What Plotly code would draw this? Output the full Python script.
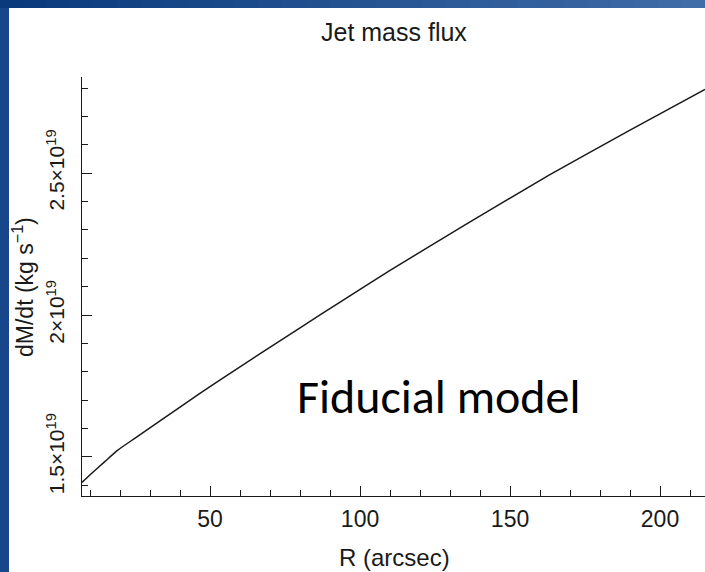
import numpy as np
import plotly.graph_objects as go

# ---- data ----
R_arcsec = [7.3, 10, 15, 19, 25, 35, 46, 54, 80, 94, 110, 135, 163, 190, 215]
mdot_e19 = [1.410, 1.437, 1.484, 1.522, 1.566, 1.639, 1.719, 1.776, 1.955,
            2.050, 2.157, 2.318, 2.493, 2.652, 2.795]
x_tickvals = [50, 100, 150, 200]
x_ticktext = ["50", "100", "150", "200"]
y_tickvals = [1.5e19, 2.0e19, 2.5e19]
y_ticktext = ["1.5×10<sup>19</sup>", "2×10<sup>19</sup>", "2.5×10<sup>19</sup>"]
x_minor = list(range(10, 220, 10))
y_minor = [v * 1e18 for v in range(14, 29)]

mdot = [v * 1e19 for v in mdot_e19]

W, H = 705, 572
ML, MR, MT, MB = 82, 0, 77, 76
PW, PH = W - ML - MR, H - MT - MB

def px(x):
    return (x - ML) / PW

def py(y):
    return (H - MB - y) / PH

FONT = "Liberation Sans, Arial, sans-serif"
INK = "#1a1a1a"

fig = go.Figure()
fig.add_trace(go.Scatter(x=R_arcsec, y=mdot, mode="lines",
                         line=dict(color=INK, width=1.5, shape="spline", smoothing=0.5),
                         showlegend=False))

xr = [7.3, 215]
yr = [1.362e19, 2.839e19]

fig.update_layout(
    width=W, height=H,
    margin=dict(l=ML, r=MR, t=MT, b=MB, pad=0),
    paper_bgcolor="white", plot_bgcolor="white",
    showlegend=False,
    xaxis=dict(range=xr, showgrid=False, zeroline=False, showline=True,
               linecolor=INK, linewidth=1.3, ticks="inside", ticklen=10,
               tickwidth=1.3, tickcolor=INK, tickmode="array",
               tickvals=x_tickvals, ticktext=x_ticktext,
               tickfont=dict(family=FONT, size=23, color=INK),
               ticklabelstandoff=2,
               minor=dict(tickmode="array", tickvals=x_minor, ticks="inside",
                          ticklen=6, tickwidth=1.3, tickcolor=INK)),
    yaxis=dict(range=yr, showgrid=False, zeroline=False, showline=True,
               linecolor=INK, linewidth=1.3, ticks="inside", ticklen=10,
               tickwidth=1.3, tickcolor=INK, tickmode="array",
               tickvals=y_tickvals, ticktext=y_ticktext, tickangle=-90,
               tickfont=dict(family=FONT, size=21, color=INK),
               ticklabelstandoff=8,
               minor=dict(tickmode="array", tickvals=y_minor, ticks="inside",
                          ticklen=6, tickwidth=1.3, tickcolor=INK)),
    xaxis2=dict(range=xr, overlaying="x", side="top", anchor="y",
                showgrid=False, zeroline=False, showline=True, linecolor=INK,
                linewidth=1.3, ticks="inside", ticklen=10, tickwidth=1.3,
                tickcolor=INK, tickmode="array", tickvals=x_tickvals,
                showticklabels=False,
                minor=dict(tickmode="array", tickvals=x_minor, ticks="inside",
                           ticklen=6, tickwidth=1.3, tickcolor=INK)),
    yaxis2=dict(range=yr, overlaying="y", side="right", anchor="x",
                showgrid=False, zeroline=False, showline=False,
                ticks="inside", ticklen=10, tickwidth=1.3, tickcolor=INK,
                tickmode="array", tickvals=y_tickvals, showticklabels=False,
                minor=dict(tickmode="array", tickvals=y_minor, ticks="inside",
                           ticklen=6, tickwidth=1.3, tickcolor=INK)),
)

# title
fig.add_annotation(text="Jet mass flux", xref="paper", yref="paper",
                   x=px(394), y=py(32), xanchor="center", yanchor="middle",
                   showarrow=False, font=dict(family=FONT, size=25, color=INK))
# axis titles
fig.add_annotation(text="R (arcsec)", xref="paper", yref="paper",
                   x=px(394), y=py(557), xanchor="center", yanchor="middle",
                   showarrow=False, font=dict(family=FONT, size=24, color=INK))
fig.add_annotation(text="dM/dt (kg s<sup>−1</sup>)", xref="paper", yref="paper",
                   x=px(23), y=py(287), xanchor="center", yanchor="middle",
                   textangle=-90, showarrow=False,
                   font=dict(family=FONT, size=23, color=INK))
# in-plot label
fig.add_annotation(text="Fiducial model", xref="paper", yref="paper",
                   x=px(438), y=py(396), xanchor="center", yanchor="middle",
                   showarrow=False,
                   font=dict(family="Carlito, Lato, Open Sans, sans-serif",
                             size=48, color="black"))

# slide background bands (blue)
shapes = []
shapes.append(dict(type="rect", xref="paper", yref="paper", layer="above",
                   x0=px(0), x1=px(9), y0=py(H), y1=py(0),
                   fillcolor="#17468b", line=dict(width=0)))
c0 = np.array([10, 58, 124])
c1 = np.array([64, 108, 168])
n = 30
for i in range(n):
    t = i / (n - 1)
    c = (c0 + (c1 - c0) * t).astype(int)
    shapes.append(dict(type="rect", xref="paper", yref="paper", layer="above",
                       x0=px(W * i / n), x1=px(W * (i + 1) / n + 1),
                       y0=py(8), y1=py(0),
                       fillcolor=f"rgb({c[0]},{c[1]},{c[2]})", line=dict(width=0)))
fig.update_layout(shapes=shapes)

fig.write_html("out.html")
